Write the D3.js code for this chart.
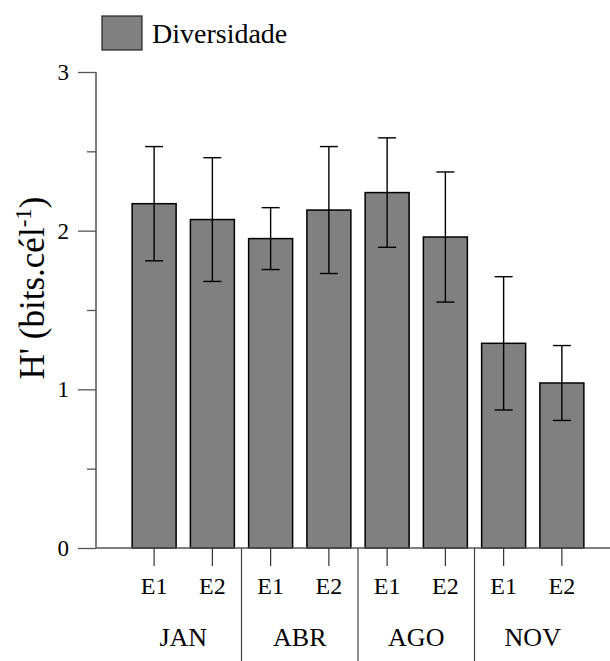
<!DOCTYPE html>
<html><head><meta charset="utf-8">
<script src="https://cdn.jsdelivr.net/npm/d3@7"></script>
<style>body{margin:0;background:#fff}svg{display:block}</style>
</head><body>
<svg id="c" width="610" height="661"></svg>
<script>
const months = ["JAN", "ABR", "AGO", "NOV"];
const sites = ["E1", "E2"];
const values = [2.17, 2.07, 1.95, 2.13, 2.24, 1.96, 1.29, 1.04];
const errors = [0.36, 0.39, 0.195, 0.40, 0.345, 0.41, 0.42, 0.236];
const yTicks = [0, 1, 2, 3];
const yMinor = [0.5, 1.5, 2.5];
const legendLabel = "Diversidade";

const data = [];
months.forEach((m, i) => sites.forEach((s, j) => {
  const k = i * sites.length + j;
  data.push({key: m + "-" + s, month: m, site: s, v: values[k], e: errors[k]});
}));

const svg = d3.select("#c");
const FONT = '"Liberation Serif"';
const x0 = 96, yBase = 548;
const y = d3.scaleLinear().domain([0, 3]).range([548, 72]);
const x = d3.scaleBand().domain(data.map(d => d.key)).range([125, 591]).paddingInner(0.245).paddingOuter(0.1225);

// bars
svg.append("g").selectAll("rect").data(data).join("rect")
  .attr("x", d => x(d.key)).attr("y", d => y(d.v))
  .attr("width", x.bandwidth()).attr("height", d => y(0) - y(d.v))
  .attr("fill", "#808080").attr("stroke", "#000").attr("stroke-width", 1.5);

// error bars
const eb = svg.append("g").attr("stroke", "#000").attr("stroke-width", 1.4);
data.forEach(d => {
  const cx = x(d.key) + x.bandwidth() / 2;
  eb.append("line").attr("x1", cx).attr("x2", cx).attr("y1", y(d.v + d.e)).attr("y2", y(d.v - d.e));
  [d.v + d.e, d.v - d.e].forEach(v => eb.append("line").attr("x1", cx - 9).attr("x2", cx + 9).attr("y1", y(v)).attr("y2", y(v)));
});

// y axis
const yAxis = d3.axisLeft(y).tickValues(yTicks).tickSize(18).tickPadding(9).tickFormat(d3.format("d"));
const gy = svg.append("g").attr("transform", `translate(${x0},0)`).call(yAxis);
gy.select(".domain").remove();
gy.selectAll(".tick line").attr("stroke", "#555").attr("stroke-width", 1.3);
gy.selectAll("text").style("font-family", FONT).style("font-size", "23px").attr("fill", "#000");
const yAxisMinor = d3.axisLeft(y).tickValues(yMinor).tickSize(9).tickFormat("");
const gym = svg.append("g").attr("transform", `translate(${x0},0)`).call(yAxisMinor);
gym.select(".domain").remove();
gym.selectAll(".tick line").attr("stroke", "#555").attr("stroke-width", 1.3);
svg.append("line").attr("x1", x0).attr("x2", x0).attr("y1", y(3)).attr("y2", y(0)).attr("stroke", "#555").attr("stroke-width", 1.5);

// x axis
svg.append("line").attr("x1", x0).attr("x2", 610).attr("y1", yBase).attr("y2", yBase).attr("stroke", "#555").attr("stroke-width", 1.5);
const xAxis = d3.axisBottom(x).tickSize(18).tickPadding(11).tickFormat(k => k.split("-")[1]);
const gx = svg.append("g").attr("transform", `translate(0,${yBase})`).call(xAxis);
gx.select(".domain").remove();
gx.selectAll(".tick line").attr("stroke", "#333").attr("stroke-width", 1.2);
gx.selectAll("text").style("font-family", FONT).style("font-size", "24px").attr("fill", "#000");

// group labels and separators
const step = x.step();
months.forEach((m, i) => {
  const a = x(m + "-" + sites[0]) + x.bandwidth() / 2;
  const b = x(m + "-" + sites[sites.length - 1]) + x.bandwidth() / 2;
  svg.append("text").attr("x", (a + b) / 2).attr("y", 646).attr("text-anchor", "middle")
    .style("font-family", FONT).style("font-size", "26px").text(m);
  if (i < months.length - 1) {
    const sx = b + step / 2;
    svg.append("line").attr("x1", sx).attr("x2", sx).attr("y1", yBase).attr("y2", 661)
      .attr("stroke", "#444").attr("stroke-width", 1.2);
  }
});

// y title
const yt = svg.append("text").attr("transform", "translate(44,288) rotate(-90)")
  .attr("text-anchor", "middle").style("font-family", FONT).style("font-size", "35px");
yt.append("tspan").text("H' (bits.cél");
yt.append("tspan").style("font-size", "23px").attr("dy", -13).text("-1");
yt.append("tspan").attr("dy", 13).text(")");

// legend
svg.append("rect").attr("x", 102).attr("y", 16).attr("width", 40).attr("height", 34)
  .attr("fill", "#808080").attr("stroke", "#222").attr("stroke-width", 1.2);
svg.append("text").attr("x", 152).attr("y", 43).style("font-family", FONT).style("font-size", "28px").text(legendLabel);
</script>
</body></html>
